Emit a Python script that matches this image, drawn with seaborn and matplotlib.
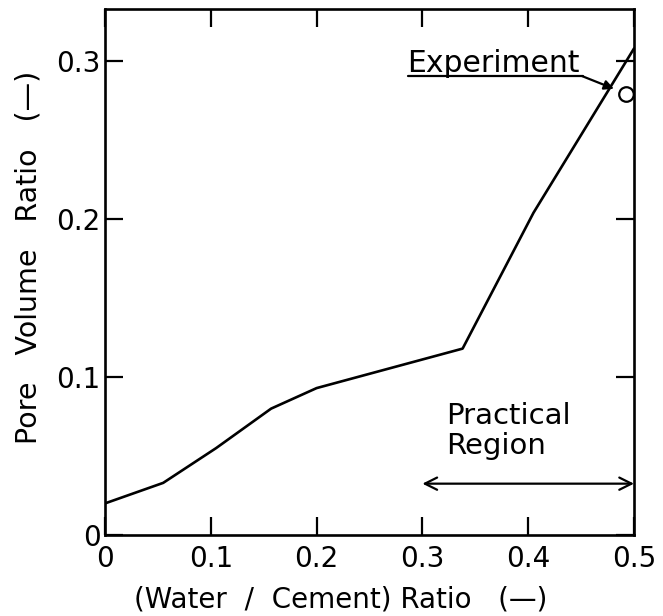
import matplotlib
matplotlib.use("Agg")
import matplotlib.pyplot as plt
import seaborn as sns
import pandas as pd

# Data
wc_ratio = [0.0, 0.055, 0.105, 0.157, 0.2, 0.338, 0.405, 0.5]
pore_ratio = [0.020, 0.033, 0.055, 0.080, 0.093, 0.118, 0.204, 0.308]
exp_x = [0.4925]
exp_y = [0.279]
x_ticks = [0, 0.1, 0.2, 0.3, 0.4, 0.5]
x_ticklabels = ["0", "0.1", "0.2", "0.3", "0.4", "0.5"]
y_ticks = [0, 0.1, 0.2, 0.3]
y_ticklabels = ["0", "0.1", "0.2", "0.3"]

sns.set_style("ticks")
plt.rcParams["font.family"] = ["DejaVu Sans"]
plt.rcParams["text.color"] = "black"
plt.rcParams["axes.labelcolor"] = "black"
plt.rcParams["xtick.color"] = "black"
plt.rcParams["ytick.color"] = "black"

fig = plt.figure(figsize=(6.63, 6.16), dpi=100)
ax = fig.add_axes([105 / 663, 1 - 535 / 616, (634 - 105) / 663, (535 - 9) / 616])

df = pd.DataFrame({"x": wc_ratio, "y": pore_ratio})
sns.lineplot(data=df, x="x", y="y", ax=ax, color="black", linewidth=1.9, sort=False)
sns.scatterplot(x=exp_x, y=exp_y, ax=ax, marker="o", s=110, facecolor="white",
                edgecolor="black", linewidth=1.6, zorder=5, clip_on=False)

ax.set_xlim(0, 0.5)
ax.set_ylim(0, 0.333)
ax.set_xticks(x_ticks)
ax.set_xticklabels(x_ticklabels)
ax.set_yticks(y_ticks)
ax.set_yticklabels(y_ticklabels)
ax.tick_params(direction="in", length=13, width=1.6, labelsize=20, top=True, right=True,
               colors="black")
ax.tick_params(axis="x", pad=7)
ax.tick_params(axis="y", pad=3)
for s in ax.spines.values():
    s.set_linewidth(1.9)
    s.set_color("black")

ax.set_xlabel("(Water  /  Cement) Ratio   (—)", fontsize=20)
ax.set_ylabel("Pore   Volume   Ratio   (—)", fontsize=20.5)
ax.xaxis.set_label_coords(0.445, -0.096)
ax.yaxis.set_label_coords(-0.118, 0.527)

# Experiment annotation
ax.text(0.286, 0.293, "Experiment", fontsize=21.5, ha="left", va="baseline")
ax.plot([0.286, 0.452], [0.2905, 0.2905], color="black", linewidth=1.6)
ax.annotate("", xy=(0.481, 0.2825), xytext=(0.451, 0.2905),
            arrowprops=dict(arrowstyle="-|>", color="black", lw=1.6, mutation_scale=14,
                            shrinkA=0, shrinkB=0))

# Practical region annotation
ax.text(0.322, 0.066, "Practical\nRegion", fontsize=21, ha="left", va="center",
        linespacing=1.08)
ax.annotate("", xy=(0.3, 0.0325), xytext=(0.5, 0.0325),
            arrowprops=dict(arrowstyle="<->", color="black", lw=1.6, mutation_scale=22,
                            shrinkA=0, shrinkB=0))

fig.savefig("out.png", dpi=100)
